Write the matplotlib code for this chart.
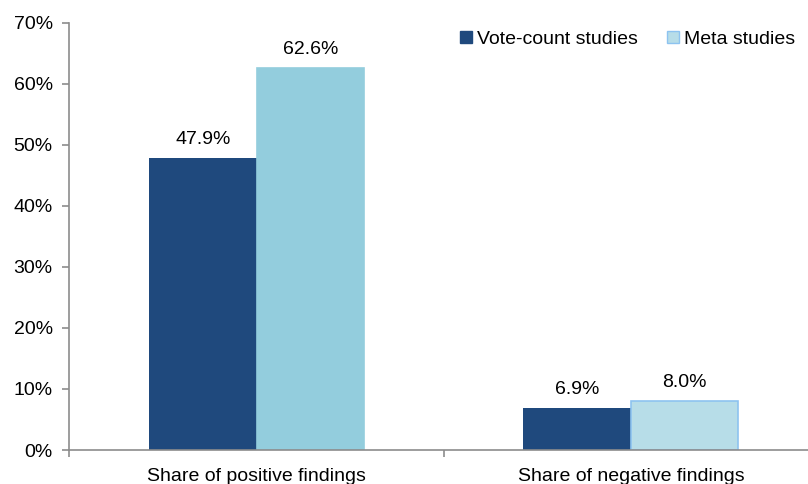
import numpy as np
import matplotlib.pyplot as plt

plt.rcParams['font.family'] = ['Liberation Sans', 'DejaVu Sans']

categories = ['Share of positive findings', 'Share of negative findings']
vote_count = [47.9, 6.9]
meta = [62.6, 8.0]

dark = '#1F497D'
light_fill = ['#93CDDD', '#B7DDE8']
light_edge = ['#93CDDD', '#8DC3F0']
axis_gray = '#8C8C8C'

fig = plt.figure(figsize=(8.08, 4.84), dpi=100)
# axes run a little past the right edge of the figure
ax = fig.add_axes([0.0858, 0.0702, 0.9267, 0.883])

x = np.arange(len(categories))
w = 0.287

b1 = ax.bar(x - w / 2, vote_count, w, color=dark, label='Vote-count studies')
b2 = ax.bar(x + w / 2, meta, w, color=light_fill, edgecolor=light_edge,
            linewidth=1.2, label='Meta studies')

for rect, v in zip(list(b1) + list(b2), vote_count + meta):
    ax.text(rect.get_x() + rect.get_width() / 2, v + 1.6, f'{v:.1f}%',
            ha='center', va='bottom', fontsize=14, color='black')

ax.set_xlim(-0.5, 1.5)
ax.set_ylim(0, 70)
ax.set_yticks(np.arange(0, 71, 10))
ax.set_yticklabels([f'{t}%' for t in range(0, 71, 10)], fontsize=14)

# category labels centred, separator ticks between categories
ax.set_xticks(x)
ax.set_xticklabels(categories, fontsize=14)
ax.tick_params(axis='x', length=0, pad=13)
ax.set_xticks([-0.5, 0.5, 1.5], minor=True)
ax.tick_params(axis='x', which='minor', length=5, width=1.2, color=axis_gray, direction='out')
ax.tick_params(axis='y', length=5, width=1.2, color=axis_gray, direction='out', pad=7)

for s in ['top', 'right']:
    ax.spines[s].set_visible(False)
for s in ['left', 'bottom']:
    ax.spines[s].set_color(axis_gray)
    ax.spines[s].set_linewidth(1.2)

handles = [plt.Rectangle((0, 0), 1, 1, color=dark),
           plt.Rectangle((0, 0), 1, 1, facecolor=light_fill[1], edgecolor=light_edge[1])]
fig.legend(handles, ['Vote-count studies', 'Meta studies'], loc='upper right',
           bbox_to_anchor=(795 / 808, 1 - 31 / 484), ncol=2, frameon=False, fontsize=14,
           borderpad=0, borderaxespad=0,
           handlelength=0.6, handleheight=0.6, handletextpad=0.26, columnspacing=1.5)

fig.savefig('out.png', dpi=100)
